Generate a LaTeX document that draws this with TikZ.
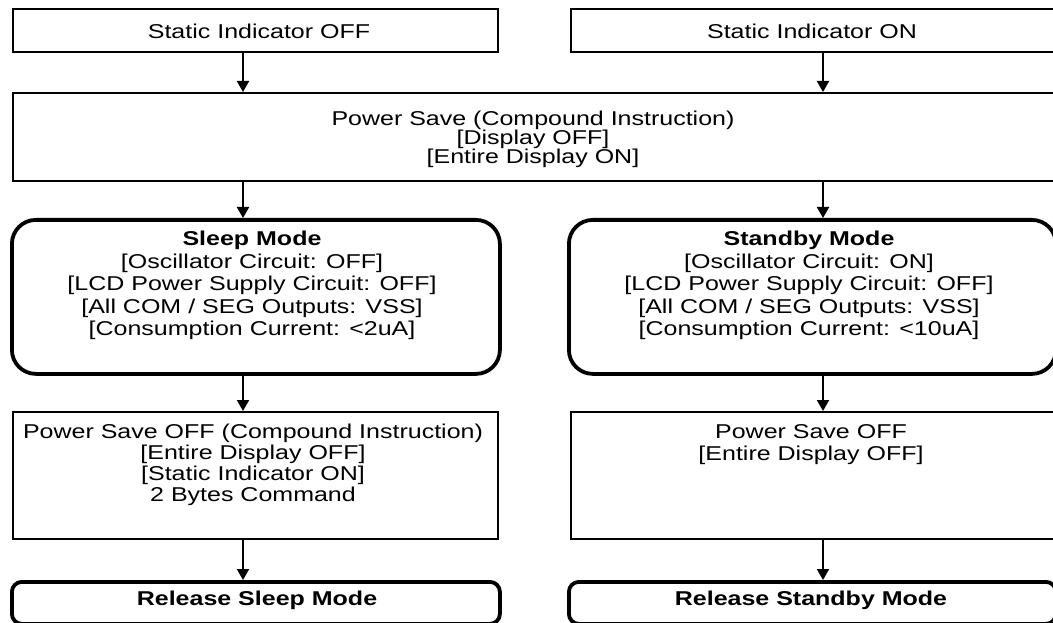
\documentclass[tikz,border=0pt]{standalone}
\usepackage{fontspec}
\setmainfont[FakeStretch=1.25]{Liberation Sans}
\usetikzlibrary{arrows.meta}
\begin{document}
\begin{tikzpicture}[x=1pt,y=-1pt,
  thinbox/.style={draw, line width=2pt, rectangle, inner sep=0pt, anchor=north west},
  biground/.style={draw, line width=3.8pt, rectangle, rounded corners=24pt, inner sep=0pt, anchor=north west},
  smallround/.style={draw, line width=3.8pt, rectangle, rounded corners=10pt, inner sep=0pt, anchor=north west},
  txt/.style={align=center, inner sep=0pt, anchor=north},
  fa/.style={font=\fontsize{20}{19}\selectfont},
  fb/.style={font=\fontsize{20}{21}\selectfont},
  fc/.style={font=\fontsize{20}{22.5}\selectfont},
  arr/.style={line width=2pt, -{Triangle[length=11pt,width=12pt]}}]
\useasboundingbox (0,0) rectangle (1053,623);
\clip (0,0) rectangle (1053,623);
\fill[white] (0,0) rectangle (1053,623);
\coordinate (xL) at (243,0);
\coordinate (xR) at (823,0);
% boxes
\node[thinbox, minimum width=485pt, minimum height=43pt] (A) at (12,8) {};
\node[thinbox, minimum width=484pt, minimum height=43pt] (B) at (570,8) {};
\node[thinbox, minimum width=1042pt, minimum height=88pt] (P) at (12,92) {};
\node[biground, minimum width=488pt, minimum height=154pt] (S) at (10,218) {};
\node[biground, minimum width=487pt, minimum height=154pt] (T) at (567,218) {};
\node[thinbox, minimum width=485pt, minimum height=127pt] (L) at (12,411) {};
\node[thinbox, minimum width=484pt, minimum height=127pt] (R) at (570,411) {};
\node[smallround, minimum width=488pt, minimum height=42pt] (RS) at (10,580) {};
\node[smallround, minimum width=487pt, minimum height=42pt] (RT) at (567,580) {};
% texts
\node[txt, fb] (At) at (259,24) {Static Indicator OFF};
\node[txt, fb] (Bt) at (812,24) {Static Indicator ON};
\node[txt, fa] (Pt) at (533,111) {Power Save (Compound Instruction)\\{}[Display OFF]\\{}[Entire Display ON]};
\node[txt, fc] (St) at (252,231) {\bfseries Sleep Mode\\{}[Oscillator Circuit: OFF]\\{}[LCD Power Supply Circuit: OFF]\\{}[All COM / SEG Outputs: VSS]\\{}[Consumption Current: <2uA]};
\node[txt, fc] (Tt) at (809,231) {\bfseries Standby Mode\\{}[Oscillator Circuit: ON]\\{}[LCD Power Supply Circuit: OFF]\\{}[All COM / SEG Outputs: VSS]\\{}[Consumption Current: <10uA]};
\node[txt, fb] (Lt) at (253,424) {Power Save OFF (Compound Instruction)\\{}[Entire Display OFF]\\{}[Static Indicator ON]\\2 Bytes Command};
\node[txt, fc] (Rt) at (811,424) {Power Save OFF\\{}[Entire Display OFF]};
\node[txt, fb] (RSt) at (257,591) {\bfseries Release Sleep Mode};
\node[txt, fb] (RTt) at (811,591) {\bfseries Release Standby Mode};
% arrows
\draw[arr] (A.south -| xL) -- (P.north -| xL);
\draw[arr] (B.south -| xR) -- (P.north -| xR);
\draw[arr] (P.south -| xL) -- (S.north -| xL);
\draw[arr] (P.south -| xR) -- (T.north -| xR);
\draw[arr] (S.south -| xL) -- (L.north -| xL);
\draw[arr] (T.south -| xR) -- (R.north -| xR);
\draw[arr] (L.south -| xL) -- (RS.north -| xL);
\draw[arr] (R.south -| xR) -- (RT.north -| xR);
\end{tikzpicture}
\end{document}
